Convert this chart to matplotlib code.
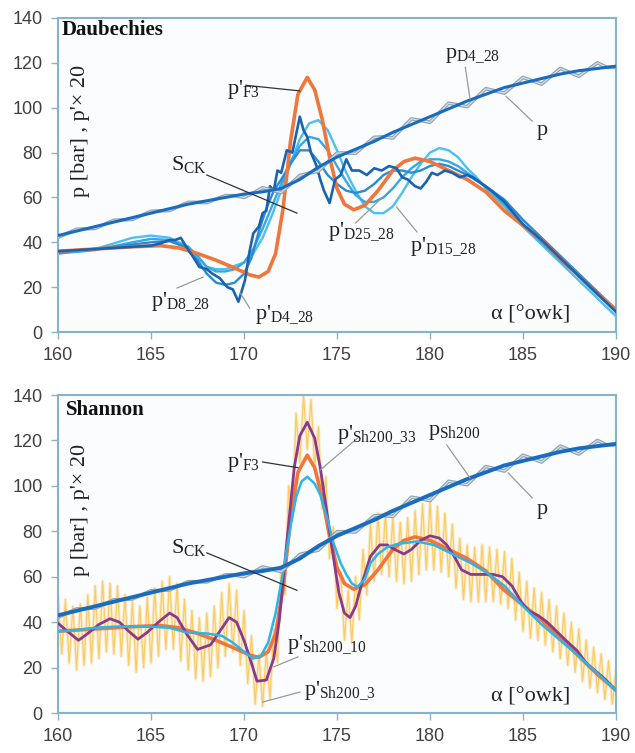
import matplotlib
matplotlib.use('Agg')
import numpy as np
import matplotlib.pyplot as plt

plt.rcParams['font.family'] = 'Liberation Sans'
plt.rcParams['mathtext.fontset'] = 'custom'
plt.rcParams['mathtext.rm'] = 'Liberation Serif'
plt.rcParams['mathtext.it'] = 'Liberation Serif:italic'

# crank angle [deg] and pressure data
p_x = list(range(160, 191))
p_line = [43, 45, 47, 49, 51, 53, 55, 57, 58.5, 60, 61.5, 62.5, 64, 68, 73.5, 78,
          81.5, 85, 89, 92.5, 96, 99.5, 103, 106, 109, 111, 113, 115, 116.5, 117.5, 118.5]

p_raw_x = np.arange(160, 190.01, 0.5)
p_raw = [42.2, 44, 45.8, 46, 46.2, 48, 49.8, 50, 50.2, 52, 53.8, 54, 54.2, 56, 57.8,
         57.8, 57.7, 59.3, 60.8, 60.8, 60, 62, 64.3, 63.3, 62.2, 66, 69.8, 70.8, 71.7,
         75.8, 79.8, 79.8, 79.7, 83.3, 86.8, 87, 86.5, 90.8, 95, 94.3, 93.5, 97.8, 102,
         101.3, 100.5, 104.5, 108.5, 107.5, 106.5, 110, 113.5, 112, 110.5, 114, 117.5,
         115.8, 114, 117, 120, 118, 118]

# p'F3 (x20)
f3_x = [160, 162, 164, 165.5, 166.5, 167.5, 168.5, 169.5, 170.3, 170.8, 171.3, 171.7,
        172.1, 172.5, 172.9, 173.4, 173.8, 174.2, 174.6, 175.0, 175.4, 175.9, 176.5,
        177.2, 178.0, 178.6, 179.2, 180, 181, 182, 183, 184, 185, 186, 187, 188, 189, 190]
f3_y = [36, 37, 38, 38.5, 37.5, 35, 32, 28.5, 25.5, 24.5, 27, 35, 55, 85, 106, 113.5,
        108, 95, 78, 64, 57, 54.5, 56.5, 63, 72, 76, 77.5, 76, 72, 68, 62.5, 54, 47.5,
        41, 33, 25, 17, 10]

# Daubechies derivatives
d4_x = [160, 161, 162, 163, 164, 165, 165.5, 166, 166.3, 166.6, 166.9, 167.3, 167.6,
        168.0, 168.3, 168.7, 169.1, 169.4, 169.7, 170.05, 170.3, 170.5, 170.8, 171.0,
        171.2, 171.4, 171.6, 171.8, 172.0, 172.3, 172.6, 172.8, 173.0, 173.2, 173.4,
        173.6, 173.9, 174.1, 174.3, 174.6, 174.9, 175.2, 175.5, 175.8, 176.2, 176.6,
        177.0, 177.4, 177.8, 178.2, 178.5, 178.8, 179.2, 179.5, 179.8, 180.1, 180.4,
        180.8, 181.2, 181.6, 182.0, 182.3, 182.8, 183.3, 184, 185, 186, 187, 188, 189, 190]
d4_y = [36, 36.5, 37, 37.5, 38, 38.5, 39.5, 41, 41, 42, 38, 33, 29, 28, 26, 24, 20, 19,
        13.5, 23, 36, 44, 47, 53, 54, 65, 63, 72, 71, 81, 80, 88, 96, 90, 87, 80, 74, 68,
        63, 57.5, 68, 70, 77, 72, 72, 70, 73, 72, 74, 73, 69, 68, 65, 64, 67, 71, 70, 72,
        71, 69, 70, 69, 66, 63, 58, 48, 41, 33, 25, 17, 9]

d8_x = [160, 162, 164, 165, 166, 166.8, 167.5, 168.0, 168.5, 169.0, 169.5, 170.0, 170.4,
        170.8, 171.2, 171.6, 172.0, 172.5, 173.0, 173.5, 174.0, 174.5, 175.0, 175.5,
        176.0, 176.5, 177.0, 177.5, 178.0, 178.5, 179.0, 179.5, 180.0, 180.5, 181.0,
        181.5, 182.0, 183.0, 184, 185, 186, 187, 188, 189, 190]
d8_y = [35.5, 37, 39, 40, 40.5, 38, 32, 26, 22, 21, 22, 26, 33, 45, 55, 63, 68, 75, 81,
        81, 76, 70, 66, 63, 62, 63, 66, 70, 72, 72, 71, 72, 74, 75, 74, 72, 70, 65, 59,
        50, 42, 34, 26, 18, 10]

d15_x = [160, 162, 164, 165, 166, 167, 167.5, 168, 168.5, 169, 169.5, 170, 170.5, 171,
         171.5, 172, 172.5, 173, 173.5, 174, 174.5, 175, 175.5, 176, 176.5, 177, 177.5,
         178, 178.5, 179, 179.5, 180, 180.5, 181, 181.5, 182, 183, 184, 185, 186, 187,
         188, 189, 190]
d15_y = [35, 36.5, 40, 41.5, 41, 38, 34, 29, 27, 27, 28, 31, 37, 46, 56, 66, 76, 83, 87,
         86, 81, 74, 67, 61, 58, 58, 60, 64, 69, 73, 76, 77, 77, 76, 74, 71, 65, 57, 48,
         40, 32, 25, 17, 9]

d25_x = [160, 162, 164, 165, 166, 167, 167.5, 168, 168.5, 169, 169.5, 170, 170.5, 171,
         171.5, 172, 172.5, 173, 173.5, 174, 174.5, 175, 175.5, 176, 176.5, 177, 177.5,
         178, 178.5, 179, 179.5, 180, 180.5, 181, 181.5, 182, 182.5, 183, 184, 185, 186,
         187, 188, 189, 190]
d25_y = [35, 37, 42, 43, 42, 38, 33, 29, 28, 28, 29.5, 31, 35, 42, 52, 63, 75, 86, 93,
         94.5, 90, 81, 71, 63, 56, 53, 53, 56, 62, 69, 75, 80, 82, 81, 78, 73, 69, 64, 56,
         47, 39, 31, 23, 15, 7]

# Shannon derivatives
sh33_x = [160, 161, 162, 163, 164, 165, 166, 166.9, 168, 168.8, 169.4, 170.0, 170.5,
          170.9, 171.3, 171.7, 172.1, 172.5, 172.8, 173.1, 173.4, 173.8, 174.1, 174.5,
          174.8, 175.2, 175.5, 175.8, 176.1, 176.5, 176.8, 177.2, 177.7, 178.3, 179.3,
          180.2, 181.2, 182.2, 183.1, 184, 185, 186, 187, 188, 189, 190]
sh33_y = [36, 36.5, 37.5, 38, 38, 38, 37.5, 35.5, 35, 34, 31, 27, 24, 25, 31, 44, 62, 82,
          95, 102, 104, 101, 96, 85, 75, 66, 61, 57, 55.5, 59, 66, 70, 73, 74.5, 75.5, 74,
          70, 66, 61.5, 56, 47, 39, 32, 25, 17.5, 10]

sh10_x = [160, 160.5, 161.1, 161.6, 162.2, 162.8, 163.3, 163.8, 164.3, 164.8, 165.4,
          166.0, 166.4, 166.9, 167.5, 168.2, 168.7, 169.2, 169.6, 170.0, 170.4, 170.7,
          171.2, 171.6, 171.9, 172.3, 172.7, 173.0, 173.4, 173.8, 174.1, 174.5, 174.8,
          175.1, 175.4, 175.7, 176.0, 176.3, 176.8, 177.3, 177.7, 178.1, 178.6, 179.0,
          179.5, 180.0, 180.5, 180.9, 181.3, 181.7, 182.2, 182.8, 183.4, 183.9, 184.4,
          184.9, 185.3, 185.8, 186.3, 186.8, 187.3, 187.9, 188.4, 188.9, 189.4, 190]
sh10_y = [39.5, 36, 32, 35, 39, 41.5, 40, 36, 32.5, 35.5, 40, 44, 42, 35, 28, 30, 36, 42,
          40, 32, 22, 14, 14.5, 24, 41, 75, 108, 122, 128, 121, 108, 86, 69, 53, 44, 42,
          47, 56, 69, 74, 74, 72, 70, 72, 76, 78, 77, 74, 69, 63, 61, 61, 61, 60, 56, 49,
          45, 43, 40, 36, 32, 27.5, 22, 18.5, 15, 10]

sh3_x = np.arange(160, 190.01, 0.2)
sh3_y = [52, 26, 50, 22, 47, 19, 48, 21, 52, 22,
         56, 24, 58, 27, 57, 26, 56, 25, 52, 21,
         49, 18, 47, 20, 51, 22, 55, 25, 58, 28,
         60, 28, 57, 23, 50, 19, 45, 15, 42, 14,
         44, 16, 47, 20, 53, 25, 57, 27, 54, 21,
         45, 13, 34, 4, 26, 3, 27, 6, 37, 22,
         65, 52, 100, 85, 132, 110, 140, 116, 138, 108,
         126, 90, 104, 68, 82, 46, 62, 32, 54, 31,
         60, 41, 72, 52, 83, 58, 88, 61, 88, 60,
         86, 58, 84, 57, 86, 58, 89, 61, 92, 63,
         93, 63, 91, 62, 88, 60, 83, 55, 77, 50,
         74, 49, 73, 49, 74, 49, 73, 49, 72, 48,
         71, 46, 68, 41, 62, 36, 58, 33, 55, 32,
         53, 30, 50, 27, 47, 24, 44, 21, 40, 18,
         37, 14, 32, 11, 29, 9, 26, 6, 23, 4,
         19]

frame_c = '#86b3c9'
serif = 'Liberation Serif'

fig = plt.figure(figsize=(6.35, 7.53), dpi=100)
ax1 = fig.add_axes([58 / 635, 1 - 332 / 753, 558 / 635, 314 / 753])
ax2 = fig.add_axes([58 / 635, 1 - 713 / 753, 558 / 635, 318 / 753])


def style(ax):
    ax.set_xlim(160, 190)
    ax.set_ylim(0, 140)
    ax.set_facecolor('#fbfcfd')
    ax.set_xticks(range(160, 191, 5))
    ax.set_yticks(range(0, 141, 20))
    for s in ax.spines.values():
        s.set_color(frame_c)
        s.set_linewidth(1.5)
    ax.tick_params(direction='out', length=5, width=1, color=frame_c,
                   labelsize=13, labelcolor='#404040', pad=6)
    ax.text(0.04, 0.64, "p [bar] , p'× 20", rotation=90, transform=ax.transAxes,
            family=serif, fontsize=16, ha='center', va='center', color='#222222')


def tag(ax, x, y, s, x0, y0, x1, y1, lc='#999999'):
    ax.plot([x0, x1], [y0, y1], color=lc, lw=0.9, zorder=6)
    ax.text(x, y, s, family=serif, fontsize=16, va='center', ha='left',
            color='#222222', zorder=7)


def p_pair(ax, lw):
    ax.plot(p_raw_x, p_raw, color='#8fa5b2', lw=2.6, zorder=4)
    ax.plot(p_raw_x, p_raw, color='#d5dee4', lw=0.9, zorder=4)
    ax.plot(p_x, p_line, color='#1a6cc0', lw=lw, zorder=5)


# Daubechies
style(ax1)
ax1.plot(d25_x, d25_y, color='#4cc0f0', lw=1.7, zorder=2)
ax1.plot(d15_x, d15_y, color='#36a8e2', lw=1.7, zorder=2)
ax1.plot(d8_x, d8_y, color='#2b8ad4', lw=1.7, zorder=2)
ax1.plot(f3_x, f3_y, color='#f0763c', lw=2.6, zorder=3)
ax1.plot(d4_x, d4_y, color='#1a63b0', lw=1.9, zorder=3)
p_pair(ax1, 2.2)
ax1.text(160.2, 134.6, 'Daubechies', family=serif, fontweight='bold', fontsize=15,
         va='center', color='#111111')
tag(ax1, 169.1, 108, r"p'$_{\mathrm{F3}}$", 170.1, 110, 173.0, 107.5, '#333333')
tag(ax1, 180.8, 123.5, r"p$_{\mathrm{D4\_28}}$", 181.9, 118, 182.15, 104)
tag(ax1, 185.75, 90, "p", 184.1, 105, 185.5, 94)
tag(ax1, 166.1, 74.5, r"S$_{\mathrm{CK}}$", 168.0, 70, 172.85, 53, '#333333')
tag(ax1, 165.0, 13.4, r"p'$_{\mathrm{D8\_28}}$", 166.4, 19.6, 167.8, 24.5)
tag(ax1, 170.6, 7.6, r"p'$_{\mathrm{D4\_28}}$", 170.3, 10.7, 169.8, 17.4)
tag(ax1, 174.5, 44.6, r"p'$_{\mathrm{D25\_28}}$", 176.0, 48.6, 177.4, 59.7)
tag(ax1, 178.9, 38, r"p'$_{\mathrm{D15\_28}}$", 179.3, 44.6, 178.2, 55.7)
ax1.text(183.3, 7.6, 'α [°owk]', family=serif, fontsize=16, va='center', color='#222222')

# Shannon
style(ax2)
ax2.plot(sh3_x, sh3_y, color='#fbbf3a', lw=2.4, alpha=0.25, zorder=1)
ax2.plot(sh3_x, sh3_y, color='#fbbf3a', lw=0.9, alpha=0.7, zorder=1)
ax2.plot(f3_x, f3_y, color='#f0763c', lw=2.6, zorder=2)
ax2.plot(sh10_x, sh10_y, color='#8a3a8c', lw=2.0, zorder=3)
ax2.plot(sh33_x, sh33_y, color='#2ab6e8', lw=1.8, zorder=3)
p_pair(ax2, 2.8)
ax2.text(160.4, 133.4, 'Shannon', family=serif, fontweight='bold', fontsize=15,
         va='center', color='#111111')
tag(ax2, 169.1, 110.5, r"p'$_{\mathrm{F3}}$", 171.0, 110.5, 172.9, 108, '#333333')
tag(ax2, 175.0, 122.4, r"p'$_{\mathrm{Sh200\_33}}$", 176.1, 121, 174.1, 107)
tag(ax2, 179.9, 123.3, r"p$_{\mathrm{Sh200}}$", 180.9, 118, 182.15, 103.5)
tag(ax2, 185.75, 89.4, "p", 184.2, 105.7, 185.5, 94.7)
tag(ax2, 166.1, 73, r"S$_{\mathrm{CK}}$", 168.0, 70.5, 172.85, 54, '#333333')
tag(ax2, 172.3, 30, r"p'$_{\mathrm{Sh200\_10}}$", 172.9, 24.7, 171.6, 20.3)
tag(ax2, 173.2, 10, r"p'$_{\mathrm{Sh200\_3}}$", 173.0, 9.2, 171.0, 4.8)
ax2.text(183.3, 7, 'α [°owk]', family=serif, fontsize=16, va='center', color='#222222')

fig.savefig('out.png', dpi=100, facecolor='white')
